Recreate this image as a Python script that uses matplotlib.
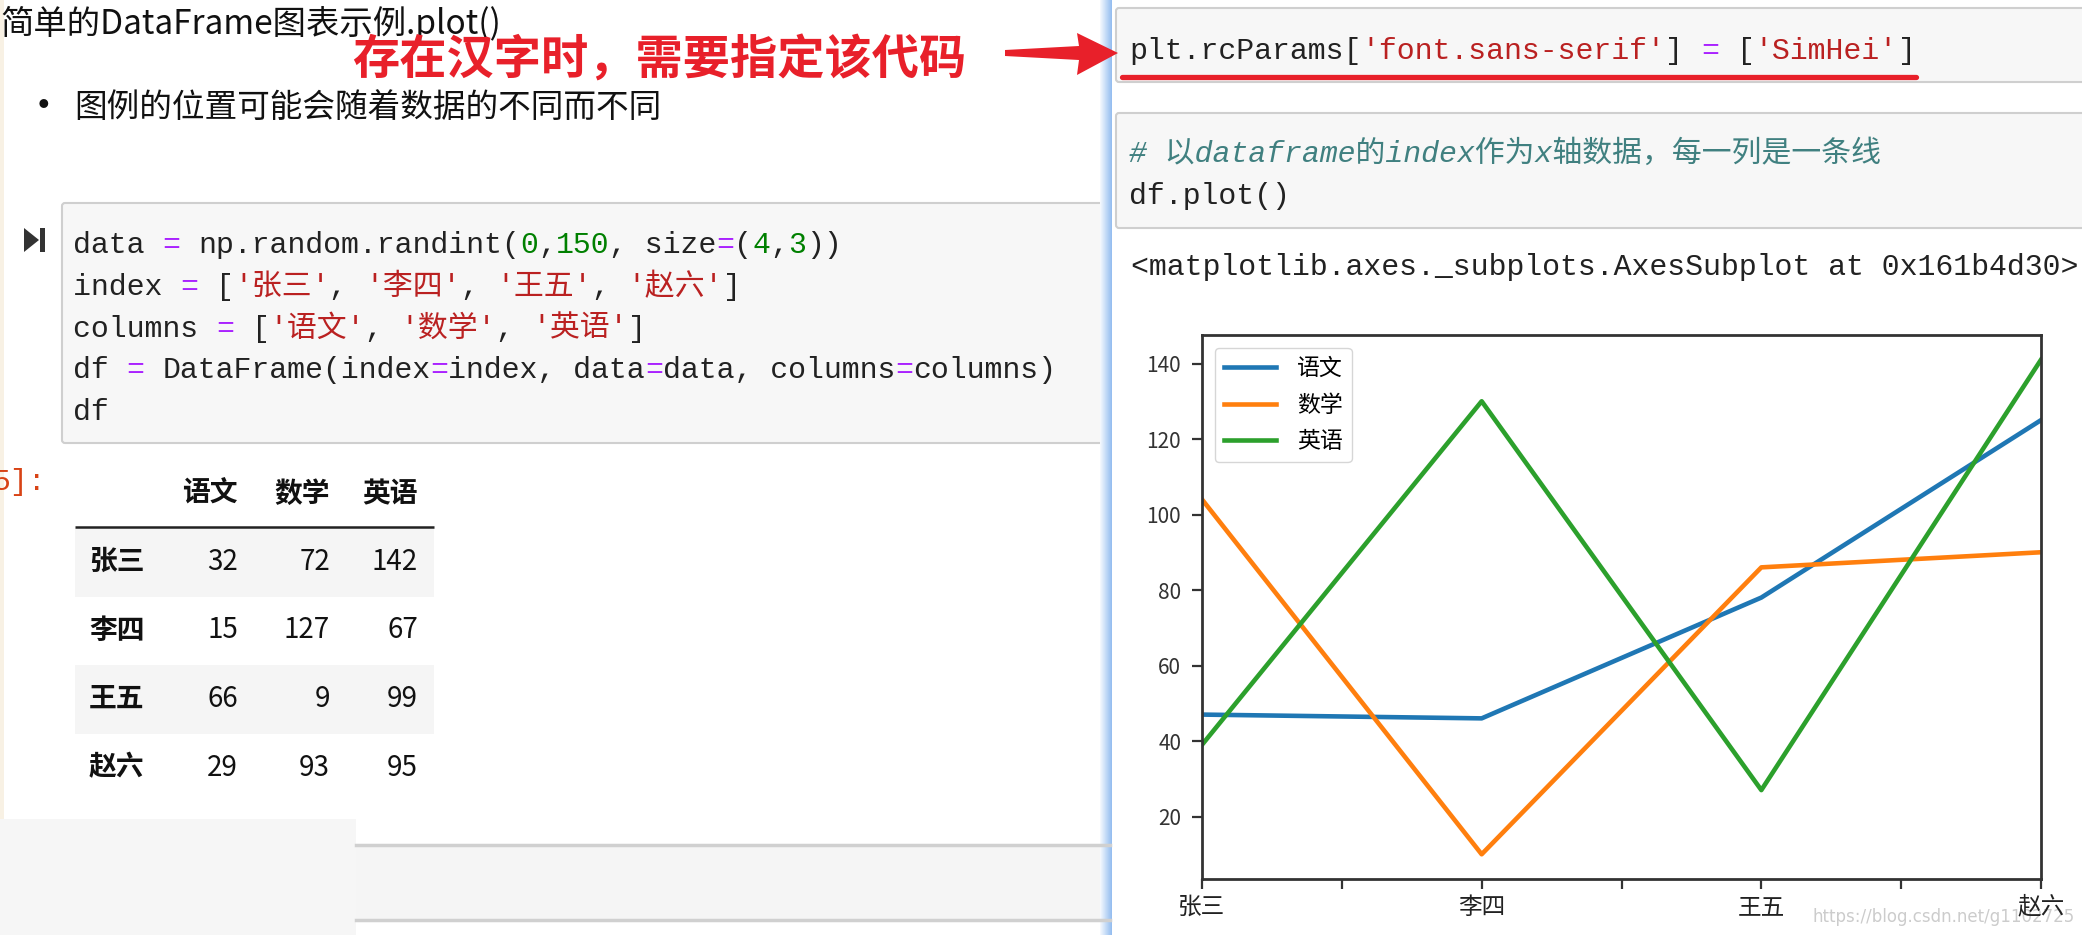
import numpy as np
import matplotlib
matplotlib.use('Agg')
import matplotlib.pyplot as plt
from matplotlib.patches import Rectangle, FancyBboxPatch, Polygon

plt.rcParams['font.family'] = ['Noto Sans CJK SC', 'DejaVu Sans']
plt.rcParams['axes.unicode_minus'] = False

# values of the df.plot() chart on the right
students = ['张三', '李四', '王五', '赵六']
subjects = ['语文', '数学', '英语']
yuwen = [47, 46, 78, 125]
shuxue = [104, 10, 86, 90]
yingyu = [39, 130, 27, 141]

# the DataFrame printed as a table on the left
table_rows = ['张三', '李四', '王五', '赵六']
table_yuwen = [32, 15, 66, 29]
table_shuxue = [72, 127, 9, 93]
table_yingyu = [142, 67, 99, 95]

W, H = 2082, 935
fig = plt.figure(figsize=(W / 100, H / 100), dpi=100)
fig.patch.set_facecolor('white')

# background axes in pixel coordinates (y grows downwards) for the notebook bits
bg = fig.add_axes([0, 0, 1, 1])
bg.set_xlim(0, W)
bg.set_ylim(H, 0)
bg.axis('off')
renderer = fig.canvas.get_renderer()

MONO = ['Liberation Mono', 'Noto Sans CJK SC']
CODE_SIZE = 21.5
K, P, G, R, C = '#222222', '#aa22ff', '#008000', '#ba2121', '#408080'


def advance(ch, **kw):
    a = bg.text(0, 0, ch * 20, **kw)
    b = bg.text(0, 0, ch * 40, **kw)
    w = (b.get_window_extent(renderer).width - a.get_window_extent(renderer).width) / 20
    a.remove()
    b.remove()
    return w


w_ascii = advance('x', family=MONO, fontsize=CODE_SIZE)
w_wide = advance('张', family=MONO, fontsize=CODE_SIZE)


def code_line(x, y, tokens, style='normal'):
    for text, color in tokens:
        lead = len(text) - len(text.lstrip(' '))
        bg.text(x + lead * w_ascii, y, text.lstrip(' '), color=color, family=MONO,
                fontsize=CODE_SIZE, style=style, va='baseline', ha='left', zorder=5)
        x += sum(w_ascii if ord(c) < 128 else w_wide for c in text)


# ---- left side: markdown + code cell + table ----
bg.add_patch(Rectangle((0, 0), 4, H, color='#f8f1e4', lw=0))
bg.text(0, 24, '简单的DataFrame图表示例.plot()', fontsize=24, color='#111111', va='center')
bg.text(352, 61, '存在汉字时，需要指定该代码', fontsize=34, fontweight='bold',
        color='#e8202a', va='center', zorder=6)
bg.text(43, 108, '•', fontsize=30, color='#111111', va='center', ha='center')
bg.text(74, 108, '图例的位置可能会随着数据的不同而不同', fontsize=23.5, color='#111111', va='center')

bg.add_patch(FancyBboxPatch((62, 203), 1080, 240, boxstyle='round,pad=0,rounding_size=3',
                            fc='#f7f7f7', ec='#cfcfcf', lw=1.5))
bg.add_patch(Polygon([(24, 228), (39, 240), (24, 252)], closed=True, color='#333333', lw=0))
bg.add_patch(Rectangle((40, 228), 5, 24, color='#333333', lw=0))

left_code = [
    [('data ', K), ('=', P), (' np.random.randint(', K), ('0', G), (',', K), ('150', G),
     (', size', K), ('=', P), ('(', K), ('4', G), (',', K), ('3', G), ('))', K)],
    [('index ', K), ('=', P), (' [', K), ("'张三'", R), (', ', K), ("'李四'", R), (', ', K),
     ("'王五'", R), (', ', K), ("'赵六'", R), (']', K)],
    [('columns ', K), ('=', P), (' [', K), ("'语文'", R), (', ', K), ("'数学'", R), (', ', K),
     ("'英语'", R), (']', K)],
    [('df ', K), ('=', P), (' DataFrame(index', K), ('=', P), ('index, data', K), ('=', P),
     ('data, columns', K), ('=', P), ('columns)', K)],
    [('df', K)],
]
for i, tokens in enumerate(left_code):
    code_line(73, 253 + 41.8 * i, tokens)

bg.text(-8, 482, '5]:', family=MONO, fontsize=CODE_SIZE, color='#d84315', va='center')

# table
for i in (0, 2):
    bg.add_patch(Rectangle((75, 528 + 68.5 * i), 359, 68.5, color='#f5f5f5', lw=0))
bg.plot([75, 434], [527, 527], color='#222222', lw=1.8, solid_capstyle='butt')
col_right = [238, 330, 418]
for name, xr in zip(subjects, col_right):
    bg.text(xr, 494, name, fontsize=20, fontweight='bold', color='#111111', ha='right', va='center')
for i, row in enumerate(table_rows):
    yc = 562 + 68.5 * i
    bg.text(89, yc, row, fontsize=20, fontweight='bold', color='#111111', va='center')
    for vals, xr in zip([table_yuwen, table_shuxue, table_yingyu], col_right):
        bg.text(xr, yc, str(vals[i]), fontsize=20, color='#111111', ha='right', va='center')

# faded bottom area
bg.add_patch(Rectangle((0, 819), 356, H - 819, color='#f6f6f6', lw=0))
bg.add_patch(Rectangle((356, 845), 760, 75, fc='#f5f5f5', ec='none'))
bg.plot([356, 1110], [845, 845], color='#d0d0d0', lw=2.5)
bg.plot([356, 1110], [920, 920], color='#d0d0d0', lw=2.5)

# ---- right side: second window ----
bg.add_patch(Rectangle((1112, 0), W - 1112, H, color='white', lw=0))
blues = ['#f3f7fd', '#eaf2fc', '#e2edfb', '#d9e8fa', '#d1e3f9', '#c8ddf7',
         '#bfd8f6', '#b7d3f5', '#aecdf3', '#a6c8f2', '#9ec3f1', '#96bef0']
for i, c in enumerate(blues):
    bg.add_patch(Rectangle((1100 + i, 0), 1, H, color=c, lw=0))

bg.add_patch(FancyBboxPatch((1116, 8), 1000, 74, boxstyle='round,pad=0,rounding_size=3',
                            fc='#f7f7f7', ec='#cfcfcf', lw=1.5))
bg.add_patch(FancyBboxPatch((1116, 113), 1000, 115, boxstyle='round,pad=0,rounding_size=3',
                            fc='#f7f7f7', ec='#cfcfcf', lw=1.5))
code_line(1129, 59, [('plt.rcParams[', K), ("'font.sans-serif'", R), ('] ', K), ('=', P),
                     (' [', K), ("'SimHei'", R), (']', K)])
bg.plot([1122, 1916], [77, 77], color='#e8202a', lw=3.8, solid_capstyle='round', zorder=6)
code_line(1129, 162, [('# 以dataframe的index作为x轴数据，每一列是一条线', C)], style='italic')
code_line(1129, 204, [('df.plot()', K)])
code_line(1131, 275, [('<matplotlib.axes._subplots.AxesSubplot at 0x161b4d30>', K)])

# red arrow pointing at the rcParams line
bg.add_patch(Polygon([(1005, 50), (1079, 46), (1077, 33), (1118, 53), (1077, 75),
                      (1079, 60), (1005, 56)], closed=True, color='#e8202a', lw=0, zorder=6))

bg.text(1812, 917, 'https://blog.csdn.net/g1102725', family=['DejaVu Sans'], fontsize=12,
        color='#cccccc', va='center', zorder=6)

# ---- the df.plot() chart ----
ax = fig.add_axes([1202 / W, 1 - 879 / H, (2041 - 1202) / W, (879 - 335) / H])
x = np.arange(len(students))
for vals, name in zip([yuwen, shuxue, yingyu], subjects):
    ax.plot(x, vals, lw=3.3, label=name)
ax.set_xlim(0, len(students) - 1)
ax.set_xticks(x)
ax.set_xticklabels(students)
ax.set_xticks(x[:-1] + 0.5, minor=True)
ax.tick_params(which='both', length=7, width=1.6, color='#333333')
ax.tick_params(axis='x', labelsize=17, pad=5, labelcolor='#222222')
ax.tick_params(axis='y', labelsize=15, pad=8, labelcolor='#333333')
for s in ax.spines.values():
    s.set_linewidth(2)
    s.set_color('#333333')
leg = ax.legend(loc='upper left', fontsize=16.5, handlelength=2.3, handletextpad=0.9,
                labelspacing=0.6, borderaxespad=0.55, edgecolor='#cccccc')

fig.savefig('out.png', dpi=100)
